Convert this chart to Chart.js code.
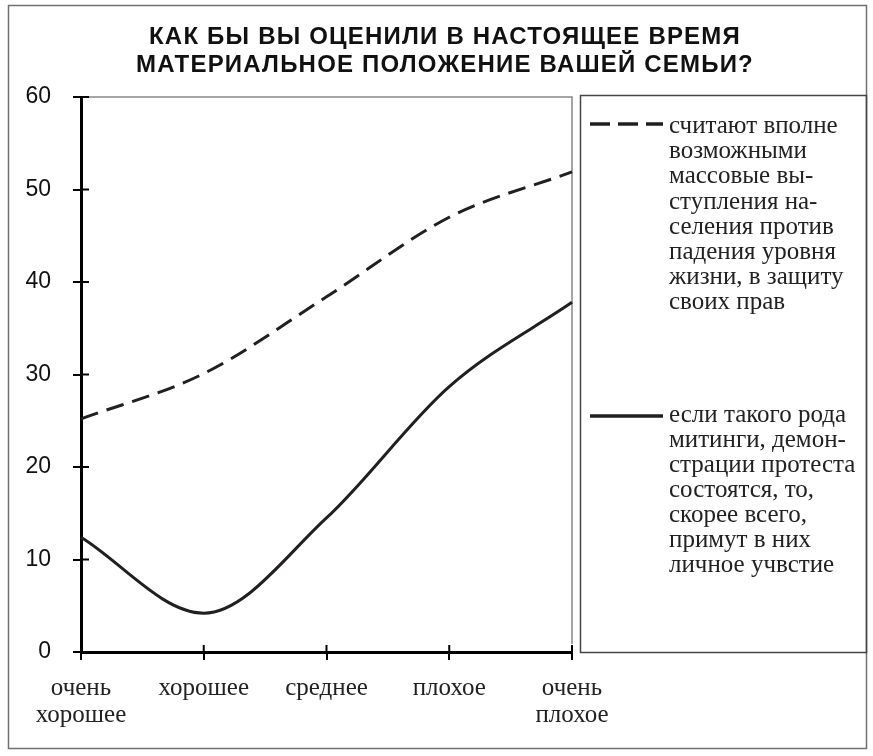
<!DOCTYPE html>
<html>
<head>
<meta charset="utf-8">
<script src="https://cdn.jsdelivr.net/npm/chart.js@4"></script>
<style>
  body { margin: 0; background: #fff; }
  #wrap { width: 873px; height: 756px; }
</style>
</head>
<body>
<div id="wrap"><canvas id="chart" width="873" height="756"></canvas></div>
<script>
// данные
var categories = [['очень', 'хорошее'], 'хорошее', 'среднее', 'плохое', ['очень', 'плохое']];
var massActions = [25.2, 30.1, 38.4, 47.0, 51.9];
var personalPart = [12.4, 4.2, 14.5, 28.7, 37.8];
var yTicks = [0, 10, 20, 30, 40, 50, 60];
var titleLines = ['КАК БЫ ВЫ ОЦЕНИЛИ В НАСТОЯЩЕЕ ВРЕМЯ', 'МАТЕРИАЛЬНОЕ ПОЛОЖЕНИЕ ВАШЕЙ СЕМЬИ?'];
var legendMass = ['считают вполне', 'возможными', 'массовые вы-', 'ступления на-', 'селения против', 'падения уровня', 'жизни, в защиту', 'своих прав'];
var legendPersonal = ['если такого рода', 'митинги, демон-', 'страции протеста', 'состоятся, то,', 'скорее всего,', 'примут в них', 'личное учвстие'];

var ink = '#231f20';
var serif = '"Liberation Serif", "Times New Roman", serif';
var sans = '"Liberation Sans", Arial, sans-serif';

var framePlugin = {
  id: 'frames',
  beforeDraw: function(chart) {
    var ctx = chart.ctx;
    ctx.save();
    ctx.fillStyle = '#fff';
    ctx.fillRect(0, 0, chart.width, chart.height);
    ctx.strokeStyle = '#707070';
    ctx.lineWidth = 1.5;
    ctx.strokeRect(8.5, 5.5, 858, 743);
    // заголовок
    ctx.fillStyle = '#111';
    ctx.font = 'bold 24px ' + sans;
    ctx.letterSpacing = '1.2px';
    ctx.textAlign = 'center';
    ctx.textBaseline = 'alphabetic';
    ctx.fillText(titleLines[0], 445, 44);
    ctx.fillText(titleLines[1], 445, 72);
    ctx.restore();
  },
  beforeDatasetsDraw: function(chart) {
    var a = chart.chartArea, ctx = chart.ctx;
    ctx.save();
    ctx.strokeStyle = '#888';
    ctx.lineWidth = 1.5;
    ctx.beginPath();
    ctx.moveTo(a.left + 8, a.top);
    ctx.lineTo(a.right, a.top);
    ctx.lineTo(a.right, a.bottom - 8);
    ctx.stroke();
    // засечки внутрь области
    ctx.strokeStyle = '#000';
    ctx.lineWidth = 2;
    ctx.beginPath();
    chart.scales.y.ticks.forEach(function(t) {
      var y = chart.scales.y.getPixelForValue(t.value);
      ctx.moveTo(a.left, y);
      ctx.lineTo(a.left + 8, y);
    });
    chart.scales.x.ticks.forEach(function(t, i) {
      var x = chart.scales.x.getPixelForTick(i);
      ctx.moveTo(x, a.bottom);
      ctx.lineTo(x, a.bottom - 7);
    });
    ctx.stroke();
    ctx.restore();
  },
  afterDraw: function(chart) {
    var ctx = chart.ctx;
    ctx.save();
    ctx.strokeStyle = '#444';
    ctx.lineWidth = 1.5;
    ctx.strokeRect(580.5, 95.5, 286, 557);
    var blocks = [legendMass, legendPersonal];
    var marks = [124, 416];
    var bases = [133, 422];
    var steps = [25.2, 25];
    chart.data.datasets.forEach(function(ds, i) {
      ctx.strokeStyle = ds.borderColor;
      ctx.lineWidth = 3.5;
      ctx.setLineDash(ds.borderDash ? [20, 8] : []);
      ctx.beginPath();
      ctx.moveTo(590, marks[i]);
      ctx.lineTo(663, marks[i]);
      ctx.stroke();
      ctx.setLineDash([]);
      ctx.fillStyle = '#222';
      ctx.font = '25px ' + serif;
      ctx.textBaseline = 'alphabetic';
      ctx.textAlign = 'left';
      blocks[i].forEach(function(line, k) {
        ctx.fillText(line, 669, bases[i] + k * steps[i]);
      });
    });
    ctx.restore();
  }
};

new Chart(document.getElementById('chart'), {
  type: 'line',
  data: {
    labels: categories,
    datasets: [{
      label: legendMass.join(' '),
      data: massActions,
      borderColor: ink,
      borderWidth: 3,
      borderDash: [18, 9],
      pointRadius: 0,
      cubicInterpolationMode: 'monotone',
      fill: false
    }, {
      label: legendPersonal.join(' '),
      data: personalPart,
      borderColor: ink,
      borderWidth: 3,
      pointRadius: 0,
      cubicInterpolationMode: 'monotone',
      fill: false
    }]
  },
  options: {
    responsive: false,
    animation: false,
    layout: { padding: { left: 0, right: 301, top: 97, bottom: 0 } },
    plugins: {
      legend: { display: false },
      tooltip: { enabled: false },
      title: { display: false }
    },
    scales: {
      x: {
        offset: false,
        afterFit: function(scale) { scale.height = 104; },
        border: { display: true, color: '#000', width: 3 },
        grid: { drawOnChartArea: false, drawTicks: true, tickLength: 8, color: '#000', lineWidth: 2 },
        ticks: {
          color: '#222',
          padding: 15,
          maxRotation: 0,
          autoSkip: false,
          font: { family: serif, size: 25, lineHeight: 1.08 }
        }
      },
      y: {
        min: 0,
        max: 60,
        afterFit: function(scale) { scale.width = 81; },
        afterBuildTicks: function(scale) { scale.ticks = yTicks.map(function(v) { return { value: v }; }); },
        border: { display: true, color: '#000', width: 3 },
        grid: { drawOnChartArea: false, drawTicks: true, tickLength: 8, color: '#000', lineWidth: 2 },
        ticks: {
          color: '#111',
          padding: 22,
          font: { family: sans, size: 23 }
        }
      }
    }
  },
  plugins: [framePlugin]
});
</script>
</body>
</html>
